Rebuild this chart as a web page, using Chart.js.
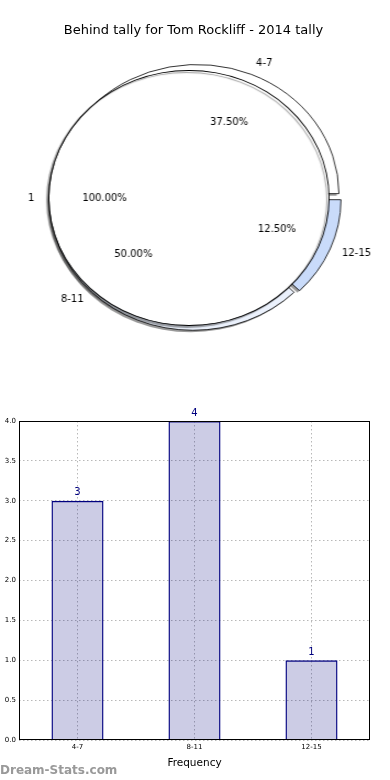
<!DOCTYPE html>
<html>
<head>
<meta charset="utf-8">
<script src="https://cdn.jsdelivr.net/npm/chart.js@4.4.1/dist/chart.umd.min.js"></script>
<style>
  html, body { margin: 0; padding: 0; background: #fff; }
  body { width: 390px; height: 780px; position: relative; overflow: hidden; font-family: "DejaVu Sans", sans-serif; }
  /* matplotlib drew the pie as an oval: stretch the pie layer sideways */
  #pieBox { position: absolute; left: 0; top: 0; width: 355px; height: 380px; transform: scaleX(1.0986); transform-origin: 0 0; }
  #pieBox canvas { position: absolute; left: 0; top: 0; }
  #pieBox #pieShadow { left: -2px; top: 2px; filter: blur(0.6px); }
  #title { position: absolute; left: 0; top: 22px; width: 387px; text-align: center; font-size: 13px; line-height: 16px; color: #000; }
  #barBox { position: absolute; left: 0; top: 395px; width: 390px; height: 385px; }
  #mark { position: absolute; left: 0; top: 763px; font-size: 12px; line-height: 14px; color: #999; font-weight: bold; }
</style>
</head>
<body>
<div id="pieBox">
  <canvas id="pieShadow" width="355" height="380"></canvas>
  <canvas id="pieBase" width="355" height="380"></canvas>
  <canvas id="pieTop" width="355" height="380"></canvas>
</div>
<div id="title">Behind tally for Tom Rockliff - 2014 tally</div>
<div id="barBox"><canvas id="bar" width="390" height="385"></canvas></div>
<div id="mark">Dream-Stats.com</div>
<script>
const categories = ["4-7", "8-11", "12-15"];
const counts = [3, 4, 1];
const wholeLabel = ["1"];
const wholeValue = [1];

Chart.defaults.font.family = '"DejaVu Sans", sans-serif';

const SX = 390 / 355; // horizontal stretch of the pie layer

// pie styling, in category order
const sliceColors = ["#ffffff", "#ebf1fc", "#c9dbfa"];
const sliceOffsets = [18, 10, 16];
const PIE_R = 128;
const basePad = { top: 50, right: 0, bottom: 34, left: 0 };

// matplotlib goes counter-clockwise from 3 o'clock, Chart.js clockwise: reverse
const order = [2, 1, 0];
const pieNames = order.map((i) => categories[i]);
const pieVals = order.map((i) => counts[i]);

function putText(ctx, text, x, y, align) {
  ctx.save();
  ctx.translate(x, y);
  ctx.scale(1 / SX, 1);
  ctx.textAlign = align;
  ctx.fillText(text, 0, 0);
  ctx.restore();
}

function pieLabels(ctx, meta, names, vals, showNames, showPcts) {
  const total = vals.reduce((a, b) => a + b, 0);
  ctx.save();
  ctx.font = '10px "DejaVu Sans", sans-serif';
  ctx.fillStyle = "#000";
  ctx.textBaseline = "middle";
  meta.data.forEach((arc, i) => {
    const p = arc.getProps(["x", "y", "startAngle", "endAngle", "outerRadius"], true);
    const mid = (p.startAngle + p.endAngle) / 2;
    const off = (arc.options.offset || 0) / 4; // same shift ArcElement applies
    const cx = p.x + Math.cos(mid) * off;
    const cy = p.y + Math.sin(mid) * off;
    if (showNames) {
      const r = p.outerRadius * 1.1;
      putText(ctx, names[i], cx + Math.cos(mid) * r, cy + Math.sin(mid) * r,
        Math.cos(mid) > 0 ? "left" : "right");
    }
    if (showPcts) {
      const r = p.outerRadius * 0.6;
      putText(ctx, (vals[i] / total * 100).toFixed(2) + "%",
        cx + Math.cos(mid) * r, cy + Math.sin(mid) * r, "center");
    }
  });
  ctx.restore();
}

const pieCommon = {
  responsive: false, animation: false, rotation: 90, radius: PIE_R,
  plugins: { legend: { display: false }, tooltip: { enabled: false } },
};

// drop shadow of the exploded slices: same slices, grey, shifted by css
new Chart(document.getElementById("pieShadow"), {
  type: "pie",
  data: {
    labels: pieNames,
    datasets: [{
      data: pieVals,
      backgroundColor: "rgba(0,0,0,0.4)",
      offset: order.map((i) => sliceOffsets[i]),
      borderWidth: 0,
    }],
  },
  options: Object.assign({ layout: { padding: basePad } }, pieCommon),
});

const base = new Chart(document.getElementById("pieBase"), {
  type: "pie",
  data: {
    labels: pieNames,
    datasets: [{
      data: pieVals,
      backgroundColor: order.map((i) => sliceColors[i]),
      offset: order.map((i) => sliceOffsets[i]),
      borderColor: "#000",
      borderWidth: 0.8,
    }],
  },
  options: Object.assign({ layout: { padding: basePad } }, pieCommon),
  plugins: [{
    id: "names",
    afterDatasetsDraw(c) { pieLabels(c.ctx, c.getDatasetMeta(0), pieNames, pieVals, true, false); },
  }],
});

const topShadow = {
  id: "topShadow",
  beforeDatasetsDraw(c) {
    const x = c.ctx;
    x.save();
    x.shadowColor = "rgba(0,0,0,0.4)";
    x.shadowOffsetX = -2;
    x.shadowOffsetY = 2;
    x.shadowBlur = 1;
  },
  afterDatasetsDraw(c) { c.ctx.restore(); },
};

// the "1" slice covers the whole pie (shifted left), drawn on a canvas on top.
// outline = thin black ring dataset, so no radial border line is drawn
new Chart(document.getElementById("pieTop"), {
  type: "pie",
  data: {
    labels: wholeLabel,
    datasets: [
      { data: wholeValue, backgroundColor: "#000", borderWidth: 0, weight: 0.9 },
      { data: wholeValue, backgroundColor: "#fff", borderWidth: 0, weight: PIE_R - 0.9 },
    ],
  },
  options: Object.assign({ layout: { padding: { top: 50, right: 11, bottom: 34, left: 0 } } }, pieCommon),
  plugins: [topShadow, {
    id: "labels",
    afterDatasetsDraw(c) {
      pieLabels(c.ctx, c.getDatasetMeta(0), wholeLabel, wholeValue, true, true);
      pieLabels(c.ctx, base.getDatasetMeta(0), pieNames, pieVals, false, true);
    },
  }],
});

const frame = {
  id: "frame",
  afterDraw(c) {
    const { left, top, right, bottom } = c.chartArea;
    const x = c.ctx;
    x.save();
    x.strokeStyle = "#000";
    x.lineWidth = 1;
    x.strokeRect(left + 0.5, top + 0.5, right - left - 1, bottom - top - 1);
    x.restore();
  },
};

const valueLabels = {
  id: "valueLabels",
  afterDraw(c) {
    const x = c.ctx;
    x.save();
    x.font = '10px "DejaVu Sans", sans-serif';
    x.fillStyle = "#00007f";
    x.textAlign = "center";
    x.textBaseline = "bottom";
    c.getDatasetMeta(0).data.forEach((bar, i) => {
      x.fillText(String(counts[i]), bar.x, bar.y - 3);
    });
    x.restore();
  },
};

const gridStyle = { color: "#b8b8b8", lineWidth: 1, drawTicks: false };
const borderStyle = { display: false, dash: [1.5, 2.5] };

new Chart(document.getElementById("bar"), {
  type: "bar",
  data: {
    labels: categories,
    datasets: [{
      data: counts,
      backgroundColor: "rgba(0,0,127,0.2)",
      borderColor: "#000080",
      borderWidth: 1.4,
      barPercentage: 0.445,
      categoryPercentage: 1,
    }],
  },
  options: {
    responsive: false, animation: false,
    layout: { padding: { top: 26, right: 20, bottom: 10, left: 0 } },
    plugins: { legend: { display: false }, tooltip: { enabled: false } },
    scales: {
      x: {
        grid: Object.assign({ offset: false }, gridStyle),
        border: borderStyle,
        ticks: { font: { size: 7 }, color: "#000", padding: 3 },
        title: { display: true, text: "Frequency", color: "#000", font: { size: 10.5 }, padding: { top: 2, bottom: 0 } },
        afterFit(s) { s.height = 30; },
      },
      y: {
        min: 0, max: 4,
        grid: gridStyle,
        border: borderStyle,
        ticks: { stepSize: 0.5, callback: (v) => v.toFixed(1), font: { size: 7 }, color: "#000", padding: 3 },
        afterFit(s) { s.width = 19; },
      },
    },
  },
  plugins: [frame, valueLabels],
});
</script>
</body>
</html>
